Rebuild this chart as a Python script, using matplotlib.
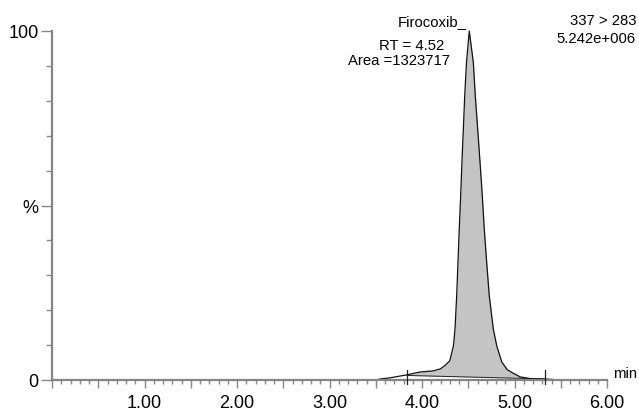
import numpy as np
import matplotlib
matplotlib.use("Agg")
import matplotlib.pyplot as plt
from matplotlib.ticker import MultipleLocator, FuncFormatter

plt.rcParams['font.family'] = ['Liberation Sans', 'DejaVu Sans']

# chromatogram trace (time in min, response in %)
times = [0.00, 3.50, 3.55, 3.65, 3.84, 3.98, 4.12, 4.20, 4.25, 4.30, 4.34, 4.357,
         4.375, 4.389, 4.403, 4.418, 4.432, 4.447, 4.462, 4.481, 4.511,
         4.555, 4.576, 4.602, 4.627, 4.652, 4.673, 4.699, 4.727, 4.771, 4.808,
         4.862, 4.92, 4.97, 5.06, 5.17, 5.33, 5.49, 6.00]
response = [0.0, 0.0, 0.3, 0.6, 1.5, 2.3, 2.6, 3.2, 4.2, 5.5, 9.8, 14.6,
            24.2, 33.8, 43.3, 52.8, 62.5, 71.9, 81.5, 91.0, 100.0,
            91.0, 81.5, 71.9, 62.5, 52.8, 43.3, 33.8, 24.2, 14.6, 9.8,
            5.2, 3.0, 2.2, 0.9, 0.4, 0.3, 0.0, 0.0]

# integration start / end (time, baseline level)
int_start = (3.84, 1.3)
int_end = (5.33, 0.3)

peak_name = "Firocoxib"
peak_rt = "RT = 4.52"
peak_area = "Area =1323717"
transition = "337 > 283"
intensity = "5.242e+006"

W, H = 639, 414
fig = plt.figure(figsize=(W / 100, H / 100), dpi=100)
ax = fig.add_axes([52 / W, (H - 381) / H, (607 - 52) / W, (381 - 32) / H])

t = np.array(times)
r = np.array(response)

# shaded peak area above the integration baseline
m = (t >= int_start[0]) & (t <= int_end[0])
tf = np.concatenate([[int_start[0]], t[m], [int_end[0]]])
rf = np.interp(tf, t, r)
base = np.interp(tf, [int_start[0], int_end[0]], [int_start[1], int_end[1]])
ax.fill_between(tf, base, rf, color='#c4c4c4', lw=0, zorder=1)
ax.plot([int_start[0], int_end[0]], [int_start[1], int_end[1]], color='#222222', lw=0.7, zorder=2)
for tt in (int_start[0], int_end[0]):
    ax.plot([tt, tt], [-1.15, 2.95], color='#222222', lw=0.9, clip_on=False, zorder=3)

ax.plot(t, r, color='#111111', lw=0.9, zorder=2, clip_on=False)

ax.set_xlim(0, 6)
ax.set_ylim(0, 100)
for s in ('top', 'right'):
    ax.spines[s].set_visible(False)
for s in ('left', 'bottom'):
    ax.spines[s].set_color('#858585')
    ax.spines[s].set_linewidth(1.6)

ax.xaxis.set_major_locator(MultipleLocator(0.5))
ax.xaxis.set_minor_locator(MultipleLocator(0.1))
ax.xaxis.set_major_formatter(FuncFormatter(
    lambda v, p: f"{v:.2f}" if abs(v - round(v)) < 1e-6 and v > 0 else ""))
ax.set_yticks([0, 50, 100])
ax.set_yticklabels(["0", "%", "100"])
ax.yaxis.set_minor_locator(MultipleLocator(10))

ax.tick_params(axis='x', which='major', length=6, width=1, color='#858585',
               labelsize=13, pad=4)
ax.tick_params(axis='x', which='minor', length=3, width=1, color='#858585')
ax.tick_params(axis='y', which='major', length=8, width=1, color='#858585',
               labelsize=13, pad=1.5)
ax.tick_params(axis='y', which='minor', length=4, width=1, color='#858585')

# annotations
fig.text(467 / W, 1 - 22 / H, peak_name + "_", ha='right', va='center', fontsize=10.7)
fig.text(411.5 / W, 1 - 46 / H, peak_rt, ha='center', va='center', fontsize=10.7)
fig.text(399 / W, 1 - 61 / H, peak_area, ha='center', va='center', fontsize=10.7)
fig.text(636 / W, 1 - 21 / H, transition, ha='right', va='center', fontsize=10.7)
fig.text(636 / W, 1 - 39 / H, intensity, ha='right', va='center', fontsize=10.7)
fig.text(613 / W, 1 - 374 / H, "min", ha='left', va='center', fontsize=10.7)

fig.savefig("out.png", dpi=100)
